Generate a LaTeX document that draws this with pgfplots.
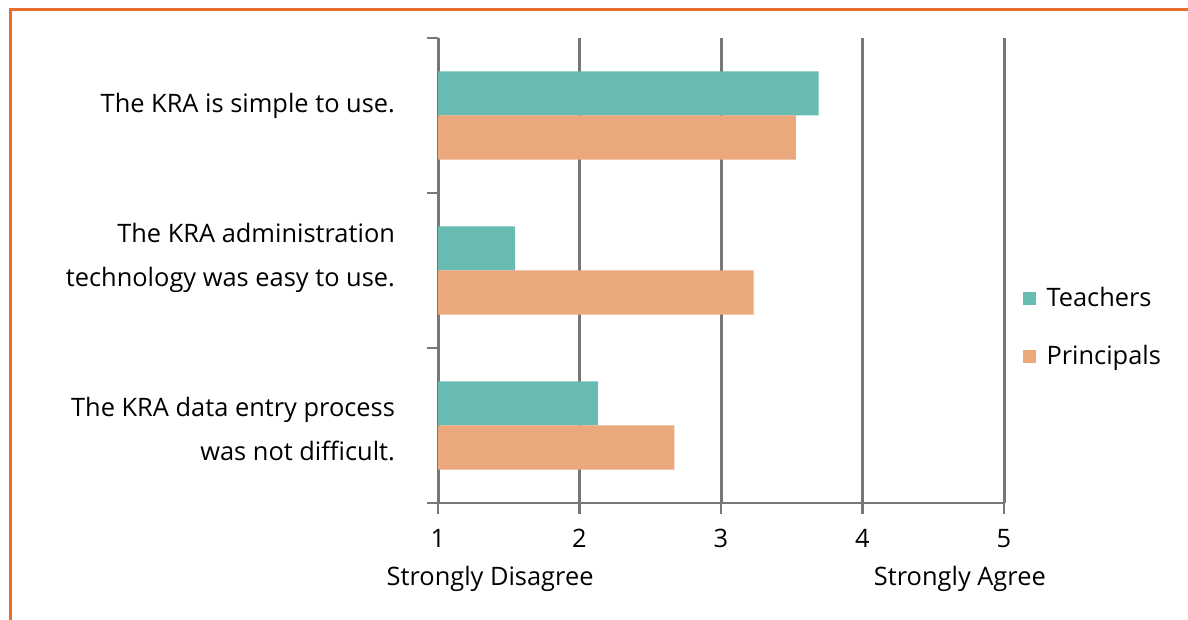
\documentclass[border=0pt]{standalone}
\usepackage{pgfplots}
\pgfplotsset{compat=1.18}
\usepackage{fontspec}
\setmainfont{Open Sans}
\definecolor{teal}{HTML}{67BBB0}
\definecolor{peach}{HTML}{EBA87C}
\definecolor{frame}{HTML}{E86C2C}
\definecolor{gridgray}{HTML}{777777}
\newcommand{\fs}{\fontsize{12.7}{22}\selectfont}
\begin{document}
\begin{tikzpicture}
\path[use as bounding box] (0,0) rectangle (594pt,310pt);
\draw[frame, line width=1.5pt] (594pt,305pt) -- (5pt,305pt) -- (5pt,0pt);
\begin{axis}[
  at={(219pt,58.5pt)}, anchor=south west,
  scale only axis, width=283pt, height=232.5pt,
  xmin=1, xmax=5, ymin=-0.5, ymax=2.5,
  xtick={1,2,3,4,5},
  ytick={-0.5,0.5,1.5,2.5}, yticklabels={},
  extra y ticks={2.06,1.08,-0.02},
  extra y tick labels={{The KRA is simple to use.},{The KRA administration\\technology was easy to use.},{The KRA data entry process\\was not difficult.}},
  extra y tick style={major tick length=0pt, grid=none},
  yticklabel style={align=right, font=\fs, xshift=-18pt},
  xticklabel style={font=\fs, yshift=-4pt},
  /pgf/number format/assume math mode=true,
  axis lines*=left,
  axis line style={draw=gridgray, line width=1.3pt, -},
  tick style={draw=gridgray, line width=1.3pt},
  tick align=outside,
  major tick length=5.5pt,
  xmajorgrids, ymajorgrids=false,
  grid style={draw=gridgray, line width=1.5pt},
  clip=false,
  legend style={at={(1.032,0.378)}, anchor=west, draw=none, fill=none,
    font=\fs, row sep=14pt, inner sep=0pt,
    nodes={inner sep=2pt}},
  legend cell align=left,
  legend image code/.code={\fill[#1] (0pt,-3.25pt) rectangle (6.5pt,3.25pt); \path (0pt,0pt) -- (10pt,0pt);},
]
\addplot[xbar, bar width=0.284, bar shift=0.142, fill=teal, draw=none]
  coordinates {(3.69,2) (1.545,1) (2.13,0)};
\addplot[xbar, bar width=0.284, bar shift=-0.142, fill=peach, draw=none]
  coordinates {(3.53,2) (3.23,1) (2.67,0)};
\legend{Teachers, Principals}
\node[font=\fs] at (rel axis cs:0.092,-0.163) {Strongly Disagree};
\node[font=\fs] at (rel axis cs:0.922,-0.163) {Strongly Agree};
\end{axis}
\draw[gridgray, line width=1.4pt] (213.5pt,58.5pt) -- (502pt,58.5pt);
\end{tikzpicture}
\end{document}
